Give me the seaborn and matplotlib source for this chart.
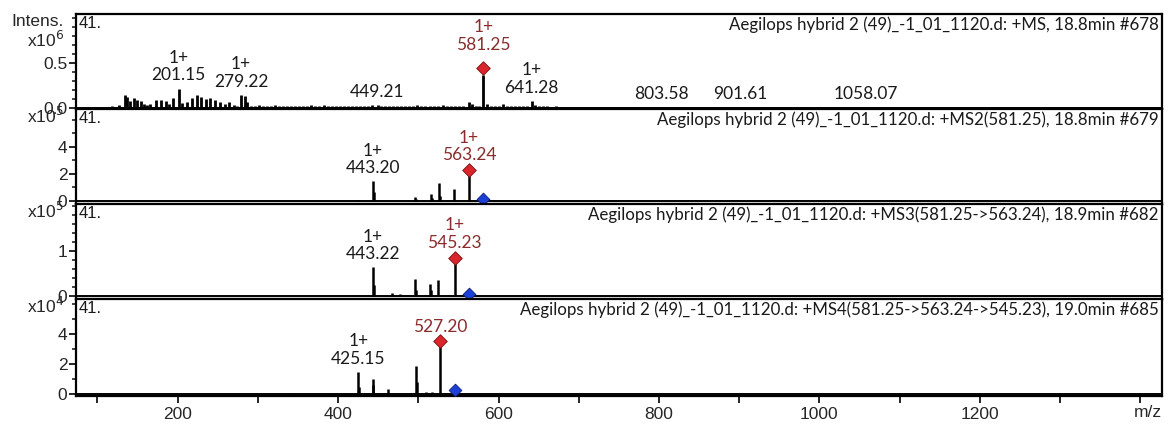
import matplotlib
matplotlib.use("Agg")
import matplotlib.pyplot as plt
from matplotlib.ticker import MultipleLocator, FixedLocator, FixedFormatter
import seaborn as sns

# ---- data (m/z, intensity in counts) ----
ms1_mz = [108, 113, 118, 122, 127, 135, 137, 141, 145.6, 150, 154, 158, 162, 166,
          172.6, 179, 185, 189, 194.6, 201.15, 205.7, 212, 218, 224.5, 228.6, 234.8,
          241, 247, 253, 259.5, 263.6, 270, 274, 279.22, 283.4, 287,
          292, 297, 301, 306, 311, 316, 321, 326, 331, 336, 341, 346, 351, 356, 361,
          366, 371, 376, 382, 387, 392, 397, 402, 407, 412, 417, 422, 427, 432, 437,
          442, 449.21, 454, 459, 464, 469, 474, 479, 484, 489, 494, 499, 504, 509,
          514, 519, 524, 531, 536, 541, 546, 551, 556, 562.6, 567, 572, 576, 581.25,
          586, 591, 596, 601, 606, 611, 616, 621, 626, 631, 636, 641.28, 645, 650,
          655, 660, 666, 672, 678, 685, 692, 699, 803.58, 901.61, 1058.07]
ms1_int = [1.0e4, 1.5e4, 2.0e4, 1.5e4, 4.0e4, 1.45e5, 1.3e5, 8.0e4, 1.1e5, 9.0e4, 8.0e4, 5.0e4, 4.0e4, 5.0e4,
           9.0e4, 9.0e4, 8.0e4, 5.0e4, 1.1e5, 2.2e5, 6.0e4, 7.0e4, 1.1e5, 1.45e5, 1.3e5, 1.0e5,
           1.1e5, 9.0e4, 7.0e4, 5.0e4, 7.0e4, 4.0e4, 3.0e4, 1.45e5, 1.35e5, 7.0e4,
           3.0e4, 2.0e4, 3.5e4, 2.5e4, 3.0e4, 2.0e4, 3.5e4, 2.5e4, 3.0e4, 2.0e4, 3.0e4, 2.5e4, 2.0e4, 3.0e4, 2.5e4,
           4.0e4, 2.0e4, 3.0e4, 3.5e4, 2.0e4, 2.5e4, 3.0e4, 2.0e4, 2.5e4, 3.0e4, 2.0e4, 2.5e4, 3.0e4, 2.0e4, 2.5e4,
           3.5e4, 3.5e4, 2.0e4, 2.5e4, 3.0e4, 2.0e4, 2.5e4, 2.0e4, 3.0e4, 2.5e4, 2.0e4, 4.0e4, 2.5e4, 2.0e4,
           3.0e4, 2.5e4, 2.0e4, 3.5e4, 2.0e4, 2.5e4, 3.0e4, 2.0e4, 3.0e4, 7.0e4, 5.0e4, 2.0e4, 3.0e4, 3.7e5,
           5.0e4, 2.5e4, 2.0e4, 3.0e4, 5.0e4, 2.5e4, 2.0e4, 3.0e4, 2.5e4, 2.0e4, 3.0e4, 8.0e4, 3.5e4, 2.0e4,
           2.5e4, 2.0e4, 1.5e4, 2.0e4, 1.5e4, 1.0e4, 1.5e4, 1.0e4, 1.0e4, 8.0e3, 1.2e4]

ms2_mz = [424, 443.20, 444.2, 496, 497, 515.5, 517, 526, 527, 545, 563.24]
ms2_int = [1.0e4, 1.45e5, 6.5e4, 3.0e4, 1.5e4, 5.5e4, 2.0e4, 1.35e5, 4.0e4, 9.0e4, 1.9e5]

ms3_mz = [424, 443.22, 444.2, 461, 467, 477, 496, 497, 515, 516, 525, 545.23]
ms3_int = [2.0e3, 6.3e4, 2.5e4, 2.0e3, 6.0e3, 5.0e3, 3.7e4, 1.2e4, 2.7e4, 1.2e4, 3.6e4, 7.7e4]

ms4_mz = [340, 395, 408, 425.15, 426.2, 443, 444, 462, 497, 498, 510, 517, 527.20]
ms4_int = [5.0e2, 5.0e2, 1.0e3, 1.45e4, 5.0e3, 1.0e4, 6.0e3, 3.5e3, 1.9e4, 8.0e3, 1.5e3, 1.5e3, 3.2e4]

# precursor (red) and isolated parent (blue) markers
red_mz = [581.25, 563.24, 545.23, 527.20]
red_int = [4.5e5, 2.3e5, 8.5e4, 3.5e4]
blue_mz = [None, 581.25, 563.24, 545.23]
blue_int = [None, 1.2e4, 5.0e3, 3.0e3]

# peak labels: (m/z, text, charge)
ms1_labels = [(201.15, "201.15", "1+"), (279.22, "279.22", "1+"), (449.21, "449.21", ""),
              (641.28, "641.28", "1+"), (803.58, "803.58", ""), (901.61, "901.61", ""),
              (1058.07, "1058.07", "")]
ms2_labels = [(443.20, "443.20", "1+")]
ms3_labels = [(443.22, "443.22", "1+")]
ms4_labels = [(425.15, "425.15", "1+")]
red_labels = [("581.25", "1+"), ("563.24", "1+"), ("545.23", "1+"), ("527.20", "")]

titles = ["Aegilops hybrid 2 (49)_-1_01_1120.d: +MS, 18.8min #678",
          "Aegilops hybrid 2 (49)_-1_01_1120.d: +MS2(581.25), 18.8min #679",
          "Aegilops hybrid 2 (49)_-1_01_1120.d: +MS3(581.25->563.24), 18.9min #682",
          "Aegilops hybrid 2 (49)_-1_01_1120.d: +MS4(581.25->563.24->545.23), 19.0min #685"]
exponents = [6, 5, 5, 4]
ylims = [(-0.008, 1.05), (-0.22, 6.8), (-0.07, 2.04), (-0.13, 6.33)]
y_major = [[0, 0.5], [0, 2, 4], [0, 1], [0, 2, 4]]
y_major_text = [["0.0", "0.5"], ["0", "2", "4"], ["0", "1"], ["0", "2", "4"]]
minor_steps = [0.1, 1, 0.2, 1]
x_major = [200, 400, 600, 800, 1000, 1200, 1400]
x_major_text = ["200", "400", "600", "800", "1000", "1200", ""]

sns.set_style("ticks")
plt.rcParams['font.family'] = ['Liberation Sans Narrow', 'Liberation Sans', 'DejaVu Sans']
label_font = ['Lato', 'DejaVu Sans']
red_text = "#8b2c2c"
red_offsets = [11, 5, 5, 5]

W, H = 1173, 436
fig = plt.figure(figsize=(W / 100, H / 100), dpi=100)
left, right = 75.7, 1162
edges = [14, 109, 204, 299, 396]

spectra = [(ms1_mz, ms1_int, ms1_labels), (ms2_mz, ms2_int, ms2_labels),
           (ms3_mz, ms3_int, ms3_labels), (ms4_mz, ms4_int, ms4_labels)]

for i, (mz, inten, labels) in enumerate(spectra):
    top, bot = edges[i], edges[i + 1]
    ax = fig.add_axes([left / W, 1 - bot / H, (right - left) / W, (bot - top) / H])
    scale = 10 ** exponents[i]
    y = [v / scale for v in inten]
    ax.vlines(mz, 0, y, color="black", lw=2.0 if i == 0 else 1.8)
    ax.axhline(0, color="black", lw=1.4)

    sns.scatterplot(x=[red_mz[i]], y=[red_int[i] / scale], marker="D", s=48,
                    color="#d9262c", edgecolor="#7a1010", linewidth=0.6, ax=ax, zorder=5)
    if blue_mz[i] is not None:
        sns.scatterplot(x=[blue_mz[i]], y=[blue_int[i] / scale], marker="D", s=42,
                        color="#1c3fd6", edgecolor="#0b1c7a", linewidth=0.6, ax=ax, zorder=5)

    # peak annotations
    lookup = dict(zip(mz, y))
    for pmz, txt, charge in labels:
        s = charge + "\n" + txt if charge else txt
        ax.annotate(s, xy=(pmz, lookup.get(pmz, 0)), xytext=(0, 4), textcoords="offset points",
                    ha="center", va="bottom", fontsize=12.5, color="#1a1a1a",
                    family=label_font, linespacing=1.1)
    rtxt, rch = red_labels[i]
    s = rch + "\n" + rtxt if rch else rtxt
    ax.annotate(s, xy=(red_mz[i], red_int[i] / scale), xytext=(0, red_offsets[i]),
                textcoords="offset points", ha="center", va="bottom", fontsize=12.5,
                color=red_text, family=label_font, linespacing=1.1)

    ax.text(0.997, 0.975, titles[i], transform=ax.transAxes, ha="right", va="top",
            fontsize=12.2, family=label_font, color="#1a1a1a")
    ax.text(0.003, 0.975, "41.", transform=ax.transAxes, ha="left", va="top",
            fontsize=12, color="#1a1a1a")

    ax.set_xlim(73, 1427)
    ax.set_ylim(*ylims[i])
    ax.yaxis.set_major_locator(FixedLocator(y_major[i]))
    ax.yaxis.set_major_formatter(FixedFormatter(y_major_text[i]))
    ax.yaxis.set_minor_locator(MultipleLocator(minor_steps[i]))
    ax.tick_params(axis="y", which="major", direction="out", length=5, width=1.4,
                   labelsize=12.5, pad=1)
    ax.tick_params(axis="y", which="minor", direction="out", length=3, width=1.2)
    ax.xaxis.set_major_locator(FixedLocator(x_major))
    ax.xaxis.set_major_formatter(FixedFormatter(x_major_text))
    ax.xaxis.set_minor_locator(MultipleLocator(100))
    if i < 3:
        ax.tick_params(axis="x", which="both", bottom=False, labelbottom=False)
    else:
        ax.tick_params(axis="x", which="major", direction="out", length=5, width=1.4,
                       labelsize=12.5, pad=3)
        ax.tick_params(axis="x", which="minor", direction="out", length=5, width=1.4)
    for sp in ax.spines.values():
        sp.set_linewidth(1.6)
        sp.set_color("black")

    # exponent label
    if i == 0:
        ax.text(-0.011, 1.0, "Intens.", transform=ax.transAxes, ha="right", va="top",
                fontsize=12.5)
        ax.text(-0.011, 0.83, r"x10$^{6}$", transform=ax.transAxes, ha="right", va="top",
                fontsize=12.5)
    else:
        ax.text(-0.011, 1.03, r"x10$^{%d}$" % exponents[i], transform=ax.transAxes,
                ha="right", va="top", fontsize=12.5)

ax.text(1.0, -0.09, "m/z", transform=ax.transAxes, ha="right", va="top", fontsize=12.5)

fig.savefig("out.png", dpi=100)
